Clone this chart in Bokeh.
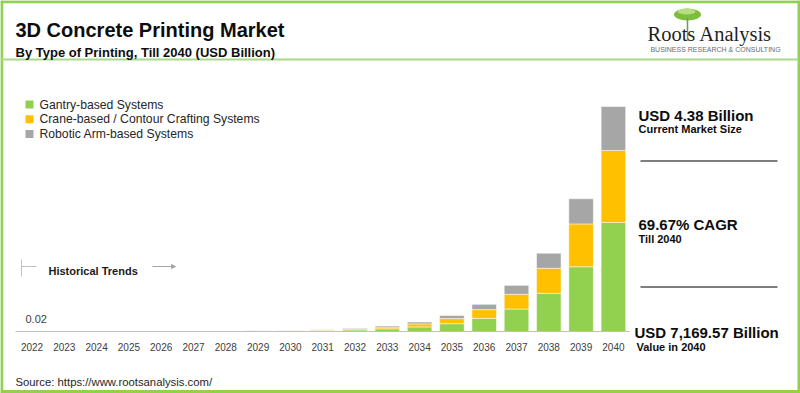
from bokeh.plotting import figure
from bokeh.models import Range1d, LinearAxis, FixedTicker, ColumnDataSource, Arrow, NormalHead
from bokeh.embed import file_html
from bokeh.resources import INLINE
from bokeh.core.properties import value

# ---------------- data ----------------
years = [str(y) for y in range(2022, 2041)]
gantry = [0.01, 0.15, 0.6, 1.3, 2.1, 3.6, 6.1, 10.4, 17.6, 29.9, 50.7, 86, 146, 248, 421, 716, 1215, 2063, 3474]
crane = [0.006, 0.1, 0.4, 0.8, 1.4, 2.4, 4.0, 6.9, 11.6, 19.7, 33.4, 56.6, 96, 163, 277, 471, 800, 1365, 2294]
robotic = [0.004, 0.05, 0.2, 0.5, 0.88, 1.43, 2.5, 4.1, 7.1, 12, 20.4, 34.4, 59, 99, 168, 283, 480, 802, 1402]
series_names = ["Gantry-based Systems", "Crane-based / Contour Crafting Systems", "Robotic Arm-based Systems"]
series_colors = ["#92D050", "#FFC000", "#A6A6A6"]
first_value_label = "0.02"
title = "3D Concrete Printing Market"
subtitle = "By Type of Printing, Till 2040 (USD Billion)"
current_size = "USD 4.38 Billion"
current_caption = "Current Market Size"
cagr = "69.67% CAGR"
cagr_caption = "Till 2040"
final_value = "USD 7,169.57 Billion"
final_caption = "Value in 2040"
source_text = "Source: https://www.rootsanalysis.com/"

# ---------------- layout ----------------
W, H = 800, 393

X0 = 31.5      # centre of first bar (px)
DX = 32.3      # spacing between bars
BASE = 331     # baseline (px from top)
TOP = 106      # top of the tallest bar (px from top)

idx = list(range(len(years)))
totals = [g + c + r for g, c, r in zip(gantry, crane, robotic)]
scale = (BASE - TOP) / max(totals)

p = figure(width=W, height=H, x_range=Range1d(0, W), y_range=Range1d(H, 0),
           x_axis_type=None, y_axis_type=None, toolbar_location=None,
           output_backend="svg", min_border=0, outline_line_color=None,
           background_fill_color="white", border_fill_color="white")
p.min_border_left = p.min_border_right = p.min_border_top = p.min_border_bottom = 0

p.extra_x_ranges = {"idx": Range1d(-X0 / DX, (W - X0) / DX)}
p.extra_y_ranges = {"val": Range1d(-(H - BASE) / scale, BASE / scale)}

src = ColumnDataSource(dict(idx=idx, gantry=gantry, crane=crane, robotic=robotic))
p.vbar_stack(["gantry", "crane", "robotic"], x="idx", width=0.76, color=series_colors,
             line_color="white", line_width=0.5, source=src,
             x_range_name="idx", y_range_name="val")

axis = LinearAxis(x_range_name="idx", y_range_name="val", fixed_location=0,
                  ticker=FixedTicker(ticks=idx),
                  major_label_overrides={i: y for i, y in zip(idx, years)},
                  bounds=(-0.5, len(years) - 0.5),
                  axis_line_color="#BFBFBF", axis_line_width=1,
                  major_tick_line_color=None, minor_tick_line_color=None,
                  major_label_text_font_size="10px", major_label_text_color="#404040",
                  major_label_text_font="Liberation Sans", major_label_standoff=5)
p.add_layout(axis, "below")


def txt(x, y, s, size, bold=False, color="#1A1A1A", font="Liberation Sans",
        align="left", baseline="alphabetic"):
    p.text(x=[x], y=[y], text=[s], text_font=value(font),
           text_font_size=f"{size}px", text_font_style="bold" if bold else "normal",
           text_color=color, text_align=align, text_baseline=baseline)


# border and title rule
G = "#92D050"
p.segment(x0=[1.25, 0, W - 1.5, 0], y0=[0, 1.25, 0, H - 2],
          x1=[1.25, W, W - 1.5, W], y1=[H, 1.25, H, H - 2], line_color=G, line_width=3)
p.segment(x0=[0], y0=[59], x1=[W - 2], y1=[59], line_color="#A9D98A", line_width=2)

# title
txt(15, 29, title, 20, bold=True, color="#0D0D0D")
txt(15, 52, subtitle, 13, bold=True, color="#0D0D0D")

# logo
p.ellipse(x=[687], y=[14], width=27, height=12, fill_color="#7DBE3C", line_color=None)
p.ellipse(x=[686], y=[11], width=18, height=6, fill_color="#B5DE7E", line_color=None)
p.segment(x0=[687], y0=[18], x1=[687], y1=[40], line_color="#6E9E44", line_width=1.5)
txt(647, 33, "Roots Analysis", 20.5, color="#1F1F1F", font="Liberation Serif")
txt(715, 48.5, "BUSINESS RESEARCH & CONSULTING", 7, color="#6B6B6B", align="center")

# legend
for i, (name, col) in enumerate(zip(series_names, series_colors)):
    yy = 104 + i * 14.7
    p.rect(x=[29], y=[yy], width=8, height=8, fill_color=col, line_color=None)
    txt(39, yy, name, 12.2, color="#262626", baseline="middle")

# historical trends
p.segment(x0=[21, 21], y0=[259, 266], x1=[21, 36], y1=[276, 266],
          line_color="#BFBFBF", line_width=1)
txt(48, 270, "Historical Trends", 11, bold=True, color="#1A1A1A")
p.add_layout(Arrow(end=NormalHead(size=4, fill_color="#A6A6A6", line_color="#A6A6A6"),
                   x_start=152, y_start=266, x_end=175, y_end=266,
                   line_color="#A6A6A6", line_width=1))

txt(25, 318, first_value_label, 11, color="#404040")

# right-hand annotations
txt(638, 115, current_size, 15, bold=True, color="#0D0D0D")
txt(638, 128.5, current_caption, 11, bold=True, color="#0D0D0D")
p.segment(x0=[640, 640], y0=[160.5, 286.5], x1=[777, 777],
          y1=[160.5, 286.5], line_color="#7F7F7F", line_width=2)
txt(638, 224, cagr, 15, bold=True, color="#0D0D0D")
txt(638, 238, cagr_caption, 11, bold=True, color="#0D0D0D")
txt(634, 332, final_value, 15, bold=True, color="#0D0D0D")
txt(636, 346, final_caption, 11, bold=True, color="#0D0D0D")

txt(15, 381, source_text, 11.3, color="#262626")

open("out.html", "w").write(file_html(p, INLINE))
